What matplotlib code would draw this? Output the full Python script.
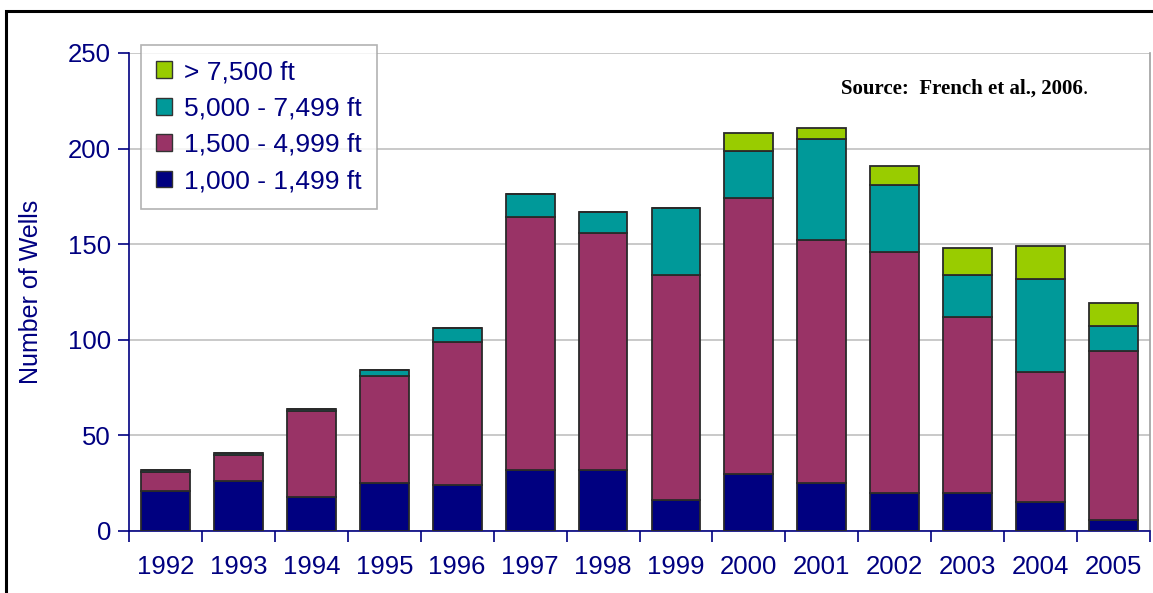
import numpy as np
import matplotlib.pyplot as plt
from matplotlib.patches import Rectangle, Patch

# wells drilled per year, split by depth range
years = ['1992', '1993', '1994', '1995', '1996', '1997', '1998',
         '1999', '2000', '2001', '2002', '2003', '2004', '2005']
d_1000_1499 = [21, 26, 18, 25, 24, 32, 32, 16, 30, 25, 20, 20, 15, 6]
d_1500_4999 = [10, 14, 45, 56, 75, 132, 124, 118, 144, 127, 126, 92, 68, 88]
d_5000_7499 = [1, 1, 1, 3, 7, 12, 11, 35, 25, 53, 35, 22, 49, 13]
d_7500_up = [0, 0, 0, 0, 0, 0, 0, 0, 9, 6, 10, 14, 17, 12]

series_names = ['1,000 - 1,499 ft', '1,500 - 4,999 ft', '5,000 - 7,499 ft', '> 7,500 ft']
colors = ['#000080', '#993366', '#009999', '#99CC00']
navy = '#000080'

plt.rcParams['font.family'] = ['Liberation Sans', 'DejaVu Sans']

fig = plt.figure(figsize=(11.53, 5.93), dpi=100)
ax = fig.add_axes([129 / 1153, 62 / 593, 1021 / 1153, 478 / 593])

x = np.arange(len(years))
bottom = np.zeros(len(years))
for vals, col, name in zip([d_1000_1499, d_1500_4999, d_5000_7499, d_7500_up], colors, series_names):
    vals = np.array(vals, dtype=float)
    ax.bar(x, vals, width=0.67, bottom=bottom, color=col, edgecolor='#2a2a2a',
           linewidth=1.3, label=name, zorder=3)
    bottom += vals

ax.set_xlim(-0.5, len(years) - 0.5)
ax.set_ylim(0, 250)
ax.set_yticks(np.arange(0, 251, 50))
ax.yaxis.grid(True, color='#c0c0c0', linewidth=1.2, zorder=0)

# x ticks sit between categories, labels centred on bars
ax.set_xticks(np.arange(-0.5, len(years), 1.0))
ax.set_xticklabels([])
ax.set_xticks(x, minor=True)
ax.set_xticklabels(years, minor=True)
ax.tick_params(axis='x', which='minor', length=0, pad=17, labelsize=18.5, labelcolor=navy)
ax.tick_params(axis='x', which='major', length=8, width=1.2, color=navy, direction='out')
ax.tick_params(axis='y', length=8, width=1.2, color=navy, labelsize=18.5, labelcolor=navy, pad=5)

for s in ['left', 'bottom']:
    ax.spines[s].set_color(navy)
    ax.spines[s].set_linewidth(1.2)
ax.spines['right'].set_color('#a0a0a0')
ax.spines['right'].set_linewidth(1.2)
ax.spines['top'].set_visible(False)

ax.set_ylabel('Number of Wells', fontsize=18, color=navy, labelpad=18)

handles = [Patch(facecolor=c, edgecolor='#333333', linewidth=1.0) for c in colors]
leg = ax.legend(handles[::-1], series_names[::-1], loc='upper left',
                bbox_to_anchor=(12 / 1021, 1.017), fontsize=19, frameon=True,
                fancybox=False, edgecolor='#a0a0a0', handlelength=0.6, handleheight=0.6,
                handletextpad=0.45, labelspacing=0.47, borderpad=0.58, borderaxespad=0)
leg.get_frame().set_linewidth(1.2)
for t in leg.get_texts():
    t.set_color(navy)
leg.set_zorder(5)

src = fig.text(841 / 1153, 1 - 89 / 593, 'Source:  French et al., 2006', fontsize=15,
               fontweight='bold', family='Liberation Serif', va='center', ha='left')
ax.annotate('.', xy=(1, 0), xycoords=src, fontsize=15, family='Liberation Serif',
            va='bottom', ha='left', annotation_clip=False)

# black outer frame, running off the right and bottom of the picture
fig.patches.append(Rectangle((6 / 1153, -0.1), 1.2, 1 - 11 / 593 + 0.1,
                             transform=fig.transFigure, fill=False,
                             edgecolor='black', linewidth=2.2))

fig.savefig('out.png', dpi=100)
